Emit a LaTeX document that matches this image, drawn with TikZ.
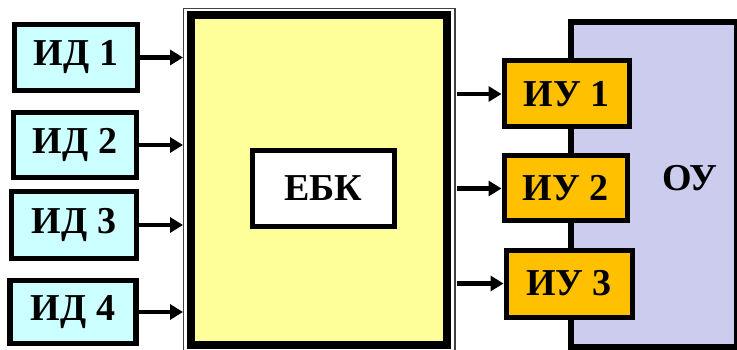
\documentclass[tikz,border=0pt]{standalone}
\usepackage{fontspec}
\setmainfont{Liberation Serif}
\usetikzlibrary{arrows.meta}
\definecolor{idfill}{HTML}{CCFFFF}
\definecolor{iufill}{HTML}{FFC000}
\definecolor{bigfill}{HTML}{FFFF99}
\definecolor{oufill}{HTML}{CCCCEE}
\tikzset{
  lbl/.style={font=\fontsize{38}{42}\selectfont\bfseries},
  idbox/.style={draw=black, line width=5.5pt, fill=idfill, inner sep=0pt},
  iubox/.style={draw=black, line width=5pt, fill=iufill, inner sep=0pt},
  arr/.style={line width=4.5pt, -{Triangle[length=13pt,width=15pt]}}
}
\begin{document}
\begin{tikzpicture}[x=1pt,y=-1pt]
\useasboundingbox (0,0) rectangle (737,350);
% OU
\draw[line width=6pt, fill=oufill] (571,22) rectangle (737,347);
\node[lbl] (ou) at (690,178) {ОУ};
% big block
\draw[line width=1.5pt, draw=black!75, fill=white] (183.5,8.5) rectangle (455,352);
\draw[line width=8pt, fill=bigfill] (190.5,15.5) rectangle (446.5,344.5);
\node[draw, line width=4.5pt, fill=white, minimum width=142pt, minimum height=76pt, lbl] (ebk) at (323.5,188.5) {ЕБК};
\coordinate (bigL) at (183,0);
\coordinate (bigR) at (457,0);
% ID boxes
\node[idbox, lbl, minimum width=123pt, minimum height=66pt] (id1) at (76,57.5) {ИД 1};
\node[idbox, lbl, minimum width=123pt, minimum height=65pt] (id2) at (75,145) {ИД 2};
\node[idbox, lbl, minimum width=125pt, minimum height=67pt] (id3) at (74,225) {ИД 3};
\node[idbox, lbl, minimum width=126pt, minimum height=63pt] (id4) at (73,312) {ИД 4};
\foreach \i in {1,...,4}{
  \draw[arr] (id\i.east) -- (id\i.east -| bigL);
}
% IU boxes
\node[iubox, lbl, minimum width=125pt, minimum height=66pt] (iu1) at (566.5,94) {ИУ 1};
\node[iubox, lbl, minimum width=123pt, minimum height=65pt] (iu2) at (565.5,188.5) {ИУ 2};
\node[iubox, lbl, minimum width=126pt, minimum height=67pt] (iu3) at (569,283.5) {ИУ 3};
\foreach \i in {1,2,3}{
  \draw[arr] (iu\i.west -| bigR) -- (iu\i.west);
}
\end{tikzpicture}
\end{document}
